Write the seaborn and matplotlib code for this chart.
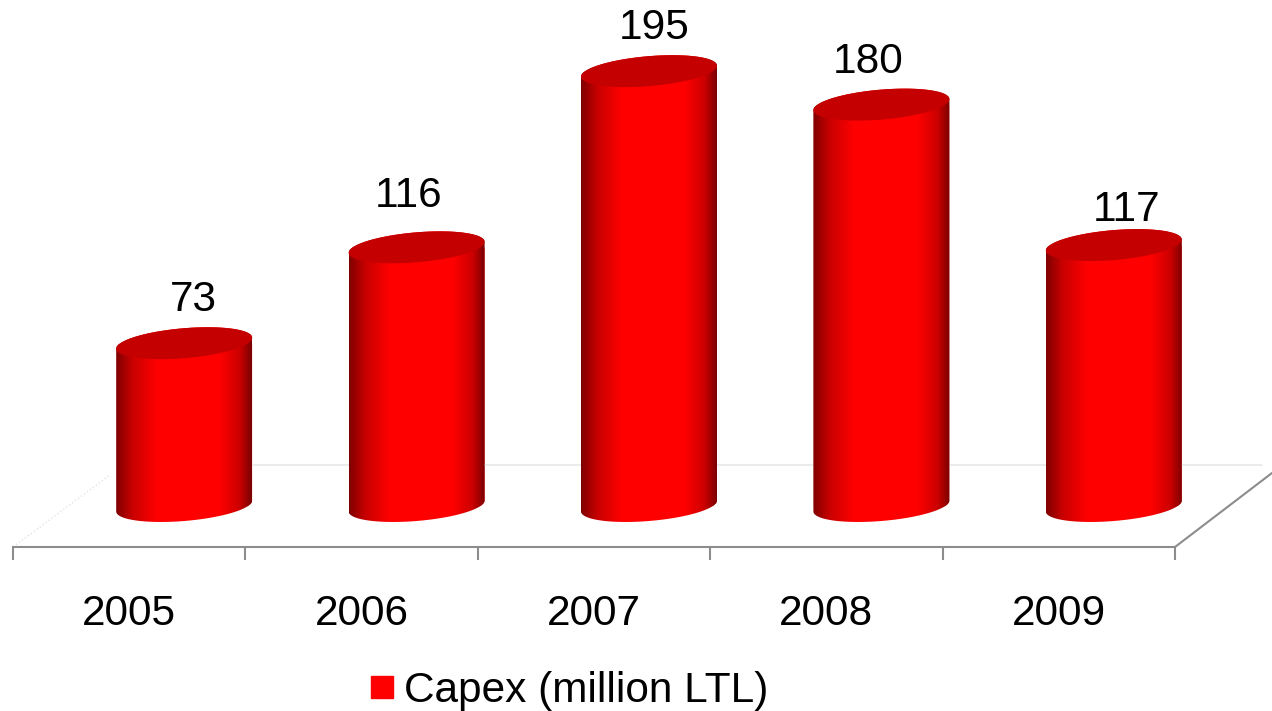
import numpy as np
import pandas as pd
import matplotlib
matplotlib.use("Agg")
import matplotlib.pyplot as plt
import seaborn as sns
from matplotlib.colors import LinearSegmentedColormap
from matplotlib.patches import Patch, Polygon

years = ["2005", "2006", "2007", "2008", "2009"]
capex = [73, 116, 195, 180, 117]
legend_label = "Capex (million LTL)"

# label nudges in pixels, the original labels are not quite centred
label_nudge_x = [9, -8, 5, -13, 13]
label_nudge_y = [43, 51, 43, 43, 35]

W, H = 1272, 711
AX_LEFT, AX_RIGHT, AX_BASE = 13, 1175, 547  # pixels
ZERO_Y = 506  # pixel row of value 0
PX_PER_UNIT = 2.23
DEPTH = 55 / 232.4  # 3d shift of the bars, in category units
BAR_WIDTH = 136 / 232.4

sns.set_theme(style="white")
plt.rcParams["font.family"] = ["Liberation Sans", "DejaVu Sans"]

fig = plt.figure(figsize=(W / 100, H / 100), dpi=100)
ax = fig.add_axes([AX_LEFT / W, 1 - AX_BASE / H, (AX_RIGHT - AX_LEFT) / W, AX_BASE / H])

df = pd.DataFrame({"year": years, "capex": capex})
sns.barplot(data=df, x="year", y="capex", color="#ff0000", width=BAR_WIDTH, ax=ax, saturation=1)

shade = LinearSegmentedColormap.from_list(
    "cyl",
    [(0, "#800000"), (0.12, "#c80000"), (0.30, "#ff0000"),
     (0.76, "#ff0000"), (0.91, "#cc0000"), (1, "#7a0000")],
)
ramp = np.linspace(0, 1, 256).reshape(1, -1)


def axes_px(x, y):
    # pixel position in the picture to axes fraction
    return (x - AX_LEFT) / (AX_RIGHT - AX_LEFT), (AX_BASE - y) / AX_BASE


def ellipse(xc, yc, a, b, tilt, t):
    return np.column_stack([xc + a * np.cos(t), yc + b * np.sin(t) + tilt * np.cos(t)])


b_top = 15 / PX_PER_UNIT
tilt = 5.5 / PX_PER_UNIT

for i, patch in enumerate(ax.patches):
    patch.set_x(patch.get_x() + DEPTH)
    x0 = patch.get_x()
    w = patch.get_width()
    h = patch.get_height()
    xc = x0 + w / 2

    upper = ellipse(xc, h, w / 2, b_top, tilt, np.linspace(0, np.pi, 60))
    lower = ellipse(xc, 0, w / 2, b_top, tilt, np.linspace(np.pi, 2 * np.pi, 60))
    body = Polygon(np.vstack([upper, lower]), closed=True, fc="none", ec="none", transform=ax.transData,
                   clip_on=False)
    ax.add_patch(body)
    patch.set_clip_path(body)
    patch.set_clip_box(fig.bbox)

    im = ax.imshow(ramp, cmap=shade, aspect="auto", interpolation="bilinear",
                   extent=[x0, x0 + w, -b_top - tilt - 1, h + b_top + tilt + 1], zorder=2)
    im.set_clip_path(body)
    im.set_clip_box(fig.bbox)

    lid = ellipse(xc, h, w / 2, b_top, tilt, np.linspace(0, 2 * np.pi, 120))
    ax.add_patch(Polygon(lid, closed=True, fc="#c40000", ec="none", zorder=3, clip_on=False))

    ax.annotate(str(capex[i]), xy=(xc, h),
                xytext=(label_nudge_x[i] * 0.72, label_nudge_y[i] * 0.72), textcoords="offset points",
                ha="center", va="center", fontsize=30.5, color="black", zorder=4)

ax.set_xlim(-0.5, 4.5)
ax.set_ylim((ZERO_Y - AX_BASE) / PX_PER_UNIT, ZERO_Y / PX_PER_UNIT)
ax.set_xlabel("")
ax.set_ylabel("")
ax.set_yticks([])

# ticks sit between the years, labels on the years
ax.set_xticks(np.arange(6) - 0.5)
ax.set_xticklabels([])
ax.set_xticks(np.arange(5), labels=years, minor=True)
ax.tick_params(axis="x", which="major", length=9.5, width=1.5, color="#8c8c8c", bottom=True)
ax.tick_params(axis="x", which="minor", length=0, pad=34, labelsize=30.5, labelcolor="black")
sns.despine(ax=ax, left=True)
ax.spines["bottom"].set_color("#8c8c8c")
ax.spines["bottom"].set_linewidth(1.5)
ax.patch.set_alpha(0)

# floor of the 3d box
ax.plot(*zip(axes_px(200, 465), axes_px(1262, 465)), transform=ax.transAxes, clip_on=False,
        color="#e8e8e8", lw=1.2, zorder=1)
ax.plot(*zip(axes_px(AX_RIGHT, AX_BASE), axes_px(1272, 473)), transform=ax.transAxes, clip_on=False,
        color="#8c8c8c", lw=1.5, zorder=1)
ax.plot(*zip(axes_px(AX_LEFT, AX_BASE), axes_px(110, 475)), transform=ax.transAxes, clip_on=False,
        color="#e4e4e4", lw=1, ls=":", zorder=1)

fig.legend(handles=[Patch(color="#ff0000", label=legend_label)], loc="center", labelcolor="black",
           bbox_to_anchor=(570 / W, 1 - 691 / H), frameon=False, fontsize=30.5,
           handlelength=0.52, handleheight=0.42, handletextpad=0.26, borderpad=0, borderaxespad=0)

fig.savefig("out.png", dpi=100)
plt.close(fig)
